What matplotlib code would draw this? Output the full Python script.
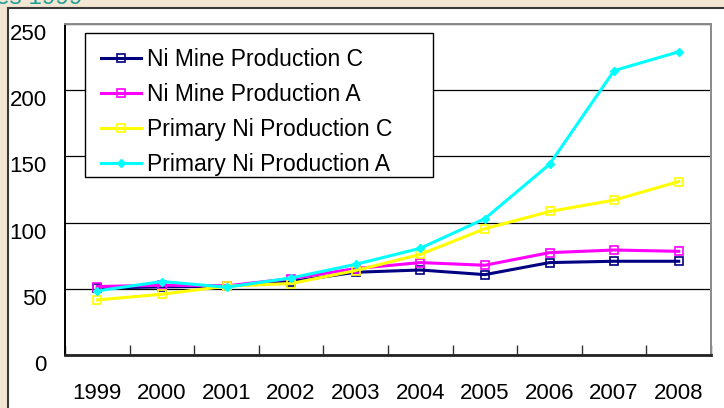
import matplotlib.pyplot as plt
from matplotlib.patches import Rectangle
from matplotlib.transforms import ScaledTranslation

plt.rcParams['font.family'] = ['Liberation Sans', 'DejaVu Sans']

# valores
years = ['1999', '2000', '2001', '2002', '2003', '2004', '2005', '2006', '2007', '2008']
mine_c = [50.5, 51.5, 52, 55.5, 62.5, 64.2, 60.7, 69.8, 70.8, 70.8]
mine_a = [51.7, 52.7, 52.2, 57.7, 65.3, 69.8, 67.8, 77.3, 79.3, 78.3]
primary_c = [41.6, 45.9, 52, 54, 63.8, 76, 95.4, 108.4, 117, 131]
primary_a = [48.4, 55.5, 51.2, 58.2, 68.5, 80.6, 103, 144, 214.8, 229]
yticks = [0, 50, 100, 150, 200, 250]

fig = plt.figure(figsize=(7.24, 4.08), dpi=100)
fig.patch.set_facecolor('#f3e6d2')

# área branca do gráfico com borda
fig.patches.append(Rectangle((8 / 724, -0.01), 1.0, 1 - 8 / 408 + 0.01,
                             transform=fig.transFigure, facecolor='white',
                             edgecolor='#3a3a3a', linewidth=1.5, zorder=-5))
fig.text(82 / 724, 1 - 4 / 408, 'es 1999', color='#1f9e9a', fontsize=17.5,
         ha='right', va='baseline')

ax = fig.add_axes([65 / 724, 1 - 355 / 408, 646 / 724, 331 / 408])
x = list(range(len(years)))

ax.plot(x, mine_c, color='#000080', lw=2.2, marker='s', ms=5.5, mfc='none',
        mec='#000080', mew=1.2, label='Ni Mine Production C')
ax.plot(x, mine_a, color='#ff00ff', lw=2.2, marker='s', ms=5.5, mfc='none',
        mec='#ff00ff', mew=1.2, label='Ni Mine Production A')
ax.plot(x, primary_c, color='#ffff00', lw=2.2, marker='s', ms=5.5, mfc='none',
        mec='#ffff00', mew=1.2, label='Primary Ni Production C')
ax.plot(x, primary_a, color='#00ffff', lw=2.2, marker='D', ms=4,
        label='Primary Ni Production A')

ax.set_xlim(-0.5, len(years) - 0.5)
ax.set_ylim(0, 250)

# ticks entre as categorias, rótulos no centro
ax.set_xticks([i - 0.5 for i in range(len(years) + 1)])
ax.set_xticklabels([])
ax.set_xticks(x, years, minor=True)
ax.tick_params(axis='x', which='major', direction='in', length=7, width=1,
               color='#333333')
ax.tick_params(axis='x', which='minor', length=0, pad=20, labelsize=16)

ax.set_yticks(yticks)
ax.tick_params(axis='y', length=0, pad=13, labelsize=16)
for lab in ax.get_yticklabels():
    lab.set_transform(lab.get_transform() +
                      ScaledTranslation(0, -8 / 100, fig.dpi_scale_trans))

ax.set_axisbelow(True)
ax.yaxis.grid(True, color='black', lw=0.9)

ax.spines['left'].set_color('black')
ax.spines['left'].set_linewidth(1.4)
ax.spines['bottom'].set_color('#222222')
ax.spines['bottom'].set_linewidth(2)
ax.spines['top'].set_color('#8a8a8a')
ax.spines['top'].set_linewidth(1.4)
ax.spines['right'].set_color('#8a8a8a')
ax.spines['right'].set_linewidth(1.4)

# moldura da legenda desenhada à parte
ax.add_patch(Rectangle((0.031, 0.5378), 0.5387, 0.435, transform=ax.transAxes,
                       facecolor='white', edgecolor='black', lw=1.0, zorder=4.5))
leg = ax.legend(loc='upper left', bbox_to_anchor=(0.0433, 0.9516),
                borderaxespad=0, fontsize=16.5, frameon=False,
                handlelength=1.75, handletextpad=0.25, labelspacing=0.53,
                borderpad=0.35)

fig.savefig('out.png', dpi=100)
